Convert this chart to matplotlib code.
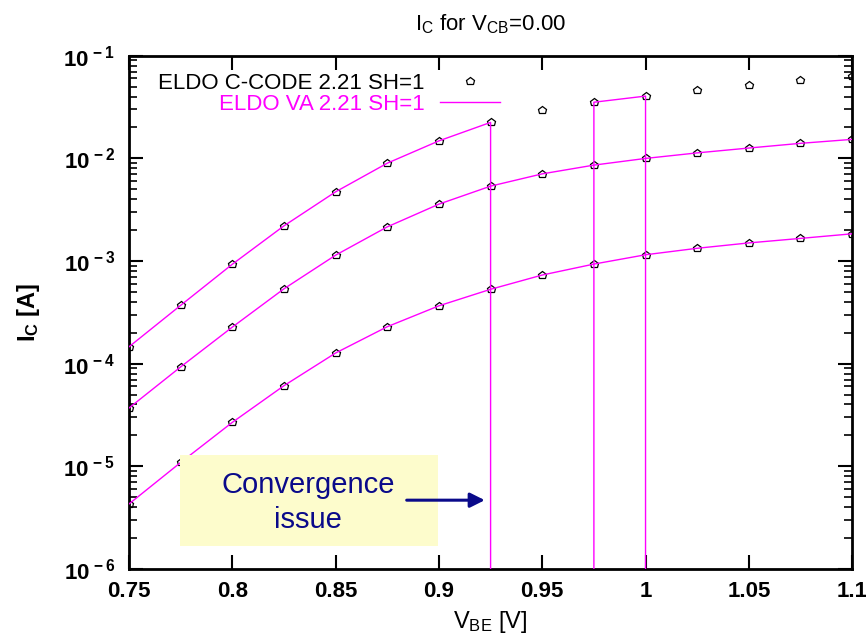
import matplotlib
matplotlib.use("Agg")
import matplotlib.pyplot as plt
from matplotlib.ticker import FixedLocator, FixedFormatter, LogLocator, NullFormatter
from matplotlib.patches import Rectangle
from matplotlib.lines import Line2D

plt.rcParams['font.family'] = ['Liberation Sans', 'DejaVu Sans']
plt.rcParams['mathtext.fontset'] = 'custom'
plt.rcParams['mathtext.rm'] = 'Liberation Sans'
plt.rcParams['mathtext.it'] = 'Liberation Sans'
plt.rcParams['mathtext.bf'] = 'Liberation Sans:bold'

# ---------------- data ----------------
vbe = [0.75, 0.775, 0.8, 0.825, 0.85, 0.875, 0.9, 0.925,
       0.95, 0.975, 1.0, 1.025, 1.05, 1.075, 1.1]

# ELDO C-CODE (points)
ic_ccode_hi = [1.46e-4, 3.7e-4, 9.3e-4, 2.2e-3, 4.72e-3, 8.97e-3, 1.48e-2, 2.24e-2,
               2.94e-2, 3.52e-2, 4.04e-2, 4.62e-2, 5.16e-2, 5.78e-2, 6.3e-2]
ic_ccode_mid = [3.7e-5, 9.3e-5, 2.27e-4, 5.36e-4, 1.14e-3, 2.15e-3, 3.58e-3, 5.36e-3,
                7.06e-3, 8.59e-3, 9.98e-3, 1.13e-2, 1.26e-2, 1.40e-2, 1.53e-2]
ic_ccode_lo = [4.3e-6, 1.09e-5, 2.68e-5, 6.1e-5, 1.27e-4, 2.29e-4, 3.66e-4, 5.3e-4,
               7.3e-4, 9.33e-4, 1.15e-3, 1.33e-3, 1.50e-3, 1.66e-3, 1.84e-3]

# ELDO VA (lines) - high-current curve fails to converge at some points
# (simulator returns an off-scale value there)
vbe_va_hi = [0.75, 0.775, 0.8, 0.825, 0.85, 0.875, 0.9, 0.925,
             0.925, 0.975, 0.975, 1.0, 1.0]
ic_va_hi = [1.46e-4, 3.7e-4, 9.3e-4, 2.2e-3, 4.72e-3, 8.97e-3, 1.48e-2, 2.24e-2,
            1e-12, 1e-12, 3.52e-2, 4.04e-2, 1e-12]
ic_va_mid = ic_ccode_mid
ic_va_lo = ic_ccode_lo

ytick_values = [1e-6, 1e-5, 1e-4, 1e-3, 1e-2, 1e-1]
ytick_labels = [r'$\mathbf{10^{\,-6}}$', r'$\mathbf{10^{\,-5}}$',
                r'$\mathbf{10^{\,-4}}$', r'$\mathbf{10^{\,-3}}$',
                r'$\mathbf{10^{\,-2}}$', r'$\mathbf{10^{\,-1}}$']
xtick_values = [0.75, 0.8, 0.85, 0.9, 0.95, 1.0, 1.05, 1.1]
xtick_labels = ['0.75', '0.8', '0.85', '0.9', '0.95', '1', '1.05', '1.1']

label_ccode = 'ELDO C-CODE 2.21 SH=1'
label_va = 'ELDO VA 2.21 SH=1'

# ---------------- figure ----------------
fig = plt.figure(figsize=(8.66, 6.4), dpi=100)
ax = fig.add_axes([0.149, 0.111, 0.835, 0.802])

MAG = '#ff00ff'
NAVY = '#0a0a8a'

mk = dict(marker='p', linestyle='none', markersize=6.2, markerfacecolor='none',
          markeredgecolor='black', markeredgewidth=0.9, zorder=3)
ax.plot(vbe, ic_ccode_hi, **mk)
ax.plot(vbe, ic_ccode_mid, **mk)
ax.plot(vbe, ic_ccode_lo, **mk)

ln = dict(color=MAG, linewidth=1.0, zorder=4)
ax.plot(vbe_va_hi, ic_va_hi, **ln)
ax.plot(vbe, ic_va_mid, **ln)
ax.plot(vbe, ic_va_lo, **ln)

ax.set_yscale('log')
ax.set_xlim(0.75, 1.1)
ax.set_ylim(1e-6, 1e-1)

ax.xaxis.set_major_locator(FixedLocator(xtick_values))
ax.xaxis.set_major_formatter(FixedFormatter(xtick_labels))
ax.yaxis.set_major_locator(FixedLocator(ytick_values))
ax.yaxis.set_major_formatter(FixedFormatter(ytick_labels))
ax.yaxis.set_minor_locator(LogLocator(base=10, subs=range(2, 10)))
ax.yaxis.set_minor_formatter(NullFormatter())

ax.tick_params(which='major', direction='in', length=10, width=1.5,
               top=True, right=True)
ax.tick_params(which='minor', direction='in', length=5.5, width=1.2,
               right=True)
ax.tick_params(axis='x', which='major', labelsize=16, pad=9)
ax.tick_params(axis='y', which='major', labelsize=16, pad=10)
ax.tick_params(axis='x', which='minor', bottom=False, top=False)
for lab in ax.get_xticklabels():
    lab.set_fontweight('bold')
for s in ax.spines.values():
    s.set_linewidth(2.0)

ax.set_title(r'$\mathregular{I_C}$ for $\mathregular{V_{CB}}$=0.00',
             fontsize=16, pad=18)
ax.set_xlabel(r'$\mathregular{V_{BE}}$ [V]', fontsize=17)
ax.xaxis.set_label_coords(0.5, -0.078)
ax.set_ylabel(r'$\mathbf{I_C}$ [A]', fontsize=17, fontweight='bold')
ax.yaxis.set_label_coords(-0.12, 0.5)

# legend
h1 = Line2D([], [], **mk)
h2 = Line2D([], [], **ln)
leg = ax.legend([h1, h2], [label_ccode, label_va], loc='upper right',
                bbox_to_anchor=(0.513, 0.966), frameon=False, markerfirst=False,
                fontsize=16, handlelength=2.7, handletextpad=0.7,
                labelspacing=0.0, borderpad=0, borderaxespad=0,
                labelcolor=['black', MAG], numpoints=1)

# annotation box
ax.add_patch(Rectangle((0.0705, 0.0454), 0.3564, 0.1766, transform=ax.transAxes,
                       facecolor='#fdfccc', edgecolor='none', zorder=6))
ax.text(0.2476, 0.130, 'Convergence\nissue', transform=ax.transAxes,
        ha='center', va='center', fontsize=21, color=NAVY, zorder=7,
        linespacing=1.3)
ax.annotate('', xy=(0.492, 0.134), xytext=(0.384, 0.134),
            xycoords='axes fraction', textcoords='axes fraction',
            arrowprops=dict(arrowstyle='-|>', color=NAVY, lw=2.2,
                            mutation_scale=22, shrinkA=0, shrinkB=0),
            zorder=7)

fig.savefig('out.png', dpi=100)
